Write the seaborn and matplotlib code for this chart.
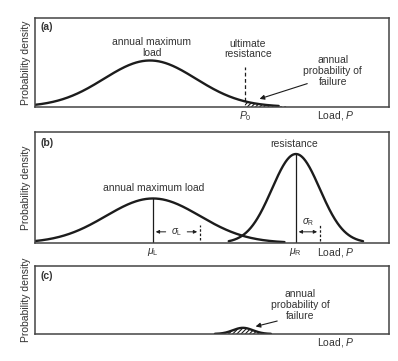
import numpy as np
import pandas as pd
import matplotlib
matplotlib.use("Agg")
import matplotlib.pyplot as plt
import seaborn as sns

# Density curves (load axis runs 0..354, density axis 0..1 in each panel)
curve_names = ["load_a", "load_b", "resistance_b", "failure_c"]
curve_panel = [0, 1, 1, 2]
curve_mean = [115, 118, 261, 208]
curve_sd = [46, 47, 24, 10]
curve_peak = [0.52, 0.40, 0.80, 0.09]

panel_tags = ["(a)", "(b)", "(c)"]
p0 = 210                 # ultimate resistance in (a)
fail_span_a = [210, 252]  # hatched tail in (a)

sns.set_theme(style="white")
plt.rcParams["font.family"] = ["Liberation Sans", "DejaVu Sans"]
plt.rcParams["mathtext.fontset"] = "custom"
plt.rcParams["mathtext.rm"] = "Liberation Sans"
plt.rcParams["mathtext.it"] = "Liberation Sans:italic"
plt.rcParams["hatch.linewidth"] = 0.8
plt.rcParams["hatch.color"] = "#1c1c1c"

INK = "#1c1c1c"
TXT = "#333333"
FS = 7.5


def density(i, x):
    return curve_peak[i] * np.exp(-0.5 * ((x - curve_mean[i]) / curve_sd[i]) ** 2)


rows = []
for i, name in enumerate(curve_names):
    lo = max(0, curve_mean[i] - 2.8 * curve_sd[i])
    hi = min(354, curve_mean[i] + 2.8 * curve_sd[i])
    xs = np.linspace(lo, hi, 300)
    for xv in xs:
        rows.append({"curve": name, "panel": curve_panel[i], "x": xv, "y": density(i, xv)})
df = pd.DataFrame(rows)

fig = plt.figure(figsize=(3.98, 3.61), dpi=100)
axes = [
    fig.add_axes([0.088, 0.704, 0.889, 0.247]),
    fig.add_axes([0.088, 0.327, 0.889, 0.308]),
    fig.add_axes([0.088, 0.075, 0.889, 0.188]),
]

for k, ax in enumerate(axes):
    sub = df[df["panel"] == k]
    sns.lineplot(data=sub, x="x", y="y", units="curve", estimator=None,
                 color=INK, lw=1.7, ax=ax)
    ax.set_xlim(0, 354)
    ax.set_ylim(0, 1)
    ax.set_xticks([])
    ax.set_yticks([])
    ax.set_xlabel("")
    ax.set_ylabel("Probability density", fontsize=FS, color=TXT, labelpad=3)
    for sp in ax.spines.values():
        sp.set_color("#444444")
        sp.set_linewidth(1.1)
    ax.text(5, {0: 0.90, 1: 0.90, 2: 0.85}[k], panel_tags[k], fontsize=FS,
            fontweight="bold", color=TXT, ha="left", va="center")
    ax.text(282, {0: -0.10, 1: -0.09, 2: -0.12}[k], "Load, $\\it{P}$", fontsize=FS,
            color=TXT, ha="left", va="center", clip_on=False)

# (a)
ax = axes[0]
xs = np.linspace(fail_span_a[0], fail_span_a[1], 100)
ax.fill_between(xs, 0, density(0, xs), facecolor="none", edgecolor=INK,
                hatch="////////", lw=0)
ax.plot([p0, p0], [density(0, p0), 0.45], ls=(0, (3, 2)), color=INK, lw=0.9)
ax.text(117, 0.666, "annual maximum\nload", fontsize=FS, color=TXT,
        ha="center", va="center", linespacing=1.05)
ax.text(213, 0.65, "ultimate\nresistance", fontsize=FS, color=TXT,
        ha="center", va="center", linespacing=1.05)
ax.text(298, 0.40, "annual\nprobability of\nfailure", fontsize=FS, color=TXT,
        ha="center", va="center", linespacing=1.15)
ax.annotate("", xy=(222, 0.08), xytext=(275, 0.27),
            arrowprops=dict(arrowstyle="-|>", color=INK, lw=0.8, mutation_scale=7))
ax.text(p0, -0.10, "$\\it{P}_0$", fontsize=FS, color=TXT, ha="center",
        va="center", clip_on=False)

# (b)
ax = axes[1]
muL, sL = curve_mean[1], curve_sd[1]
muR, sR = curve_mean[2], curve_sd[2]
ax.plot([muL, muL], [0, curve_peak[1]], color=INK, lw=0.9)
ax.plot([muR, muR], [0, curve_peak[2]], color=INK, lw=0.9)
ax.plot([muL + sL, muL + sL], [0.03, 0.16], ls=(0, (2, 1.5)), color=INK, lw=0.9)
ax.plot([muR + sR, muR + sR], [0.02, 0.16], ls=(0, (2, 1.5)), color=INK, lw=0.9)
ax.text(muL + sL / 2, 0.10, "$\\sigma_\\mathrm{L}$", fontsize=FS - 0.5, color=TXT,
        ha="center", va="center")
ax.annotate("", xy=(muL, 0.10), xytext=(muL + sL / 2 - 8, 0.10),
            arrowprops=dict(arrowstyle="-|>", color=INK, lw=0.7, mutation_scale=5))
ax.annotate("", xy=(muL + sL, 0.10), xytext=(muL + sL / 2 + 8, 0.10),
            arrowprops=dict(arrowstyle="-|>", color=INK, lw=0.7, mutation_scale=5))
ax.text(muR + sR / 2, 0.19, "$\\sigma_\\mathrm{R}$", fontsize=FS - 0.5, color=TXT,
        ha="center", va="center")
ax.annotate("", xy=(muR + sR, 0.10), xytext=(muR, 0.10),
            arrowprops=dict(arrowstyle="<|-|>", color=INK, lw=0.7, mutation_scale=5))
ax.text(119, 0.49, "annual maximum load", fontsize=FS, color=TXT,
        ha="center", va="center")
ax.text(259, 0.89, "resistance", fontsize=FS, color=TXT, ha="center", va="center")
ax.text(muL, -0.08, "$\\mu_\\mathrm{L}$", fontsize=FS, color=TXT,
        ha="center", va="center", clip_on=False)
ax.text(muR, -0.08, "$\\mu_\\mathrm{R}$", fontsize=FS, color=TXT,
        ha="center", va="center", clip_on=False)

# (c)
ax = axes[2]
xs = np.linspace(curve_mean[3] - 2.8 * curve_sd[3], curve_mean[3] + 2.8 * curve_sd[3], 100)
ax.fill_between(xs, 0, density(3, xs), facecolor="none", edgecolor=INK,
                hatch="////////", lw=0)
ax.text(265, 0.43, "annual\nprobability of\nfailure", fontsize=FS, color=TXT,
        ha="center", va="center", linespacing=1.15)
ax.annotate("", xy=(218, 0.10), xytext=(245, 0.20),
            arrowprops=dict(arrowstyle="-|>", color=INK, lw=0.8, mutation_scale=7))

fig.savefig("out.png", dpi=100)
